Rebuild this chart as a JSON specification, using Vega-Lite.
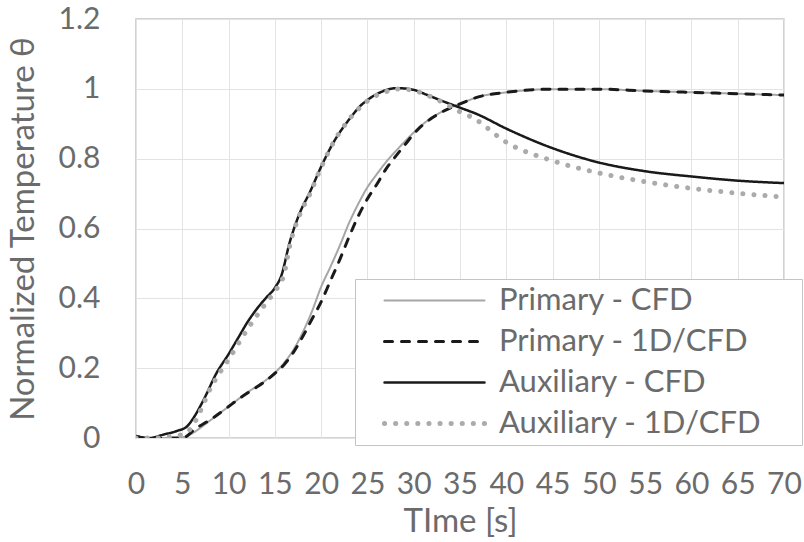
{
  "$schema": "https://vega.github.io/schema/vega-lite/v6.json",
  "width": 648,
  "height": 419,
  "autosize": {"type": "none"},
  "padding": {"left": 136, "top": 19, "right": 20, "bottom": 104},
  "background": "white",
  "config": {
    "font": "Lato",
    "view": {"stroke": "#c4c4c4", "strokeWidth": 1.5},
    "axis": {
      "labelColor": "#6b6b6b",
      "titleColor": "#6b6b6b",
      "labelFontSize": 30,
      "titleFontSize": 33,
      "titleFontWeight": "normal",
      "gridColor": "#e3e3e3",
      "gridWidth": 1,
      "domain": false,
      "ticks": false
    }
  },
  "data": {
    "values": [
      {"series": "Primary - CFD", "t": 0, "v": 0.0},
      {"series": "Primary - CFD", "t": 2, "v": 0.0},
      {"series": "Primary - CFD", "t": 4, "v": 0.0},
      {"series": "Primary - CFD", "t": 5, "v": 0.002},
      {"series": "Primary - CFD", "t": 6, "v": 0.012},
      {"series": "Primary - CFD", "t": 7, "v": 0.03},
      {"series": "Primary - CFD", "t": 8, "v": 0.05},
      {"series": "Primary - CFD", "t": 10, "v": 0.09},
      {"series": "Primary - CFD", "t": 12, "v": 0.13},
      {"series": "Primary - CFD", "t": 14, "v": 0.165},
      {"series": "Primary - CFD", "t": 16, "v": 0.215},
      {"series": "Primary - CFD", "t": 17, "v": 0.252},
      {"series": "Primary - CFD", "t": 18, "v": 0.302},
      {"series": "Primary - CFD", "t": 19, "v": 0.362},
      {"series": "Primary - CFD", "t": 20, "v": 0.433},
      {"series": "Primary - CFD", "t": 21, "v": 0.49},
      {"series": "Primary - CFD", "t": 22, "v": 0.55},
      {"series": "Primary - CFD", "t": 23, "v": 0.615},
      {"series": "Primary - CFD", "t": 24, "v": 0.67},
      {"series": "Primary - CFD", "t": 25, "v": 0.718},
      {"series": "Primary - CFD", "t": 26, "v": 0.755},
      {"series": "Primary - CFD", "t": 27, "v": 0.79},
      {"series": "Primary - CFD", "t": 28, "v": 0.82},
      {"series": "Primary - CFD", "t": 29, "v": 0.848},
      {"series": "Primary - CFD", "t": 30, "v": 0.875},
      {"series": "Primary - CFD", "t": 31, "v": 0.899},
      {"series": "Primary - CFD", "t": 32, "v": 0.918},
      {"series": "Primary - CFD", "t": 33, "v": 0.934},
      {"series": "Primary - CFD", "t": 35, "v": 0.957},
      {"series": "Primary - CFD", "t": 37, "v": 0.977},
      {"series": "Primary - CFD", "t": 40, "v": 0.99},
      {"series": "Primary - CFD", "t": 45, "v": 0.999},
      {"series": "Primary - CFD", "t": 50, "v": 0.999},
      {"series": "Primary - CFD", "t": 55, "v": 0.994},
      {"series": "Primary - CFD", "t": 60, "v": 0.99},
      {"series": "Primary - CFD", "t": 65, "v": 0.986},
      {"series": "Primary - CFD", "t": 70, "v": 0.982},

      {"series": "Primary - 1D/CFD", "t": 0, "v": 0.005},
      {"series": "Primary - 1D/CFD", "t": 1.5, "v": -0.003},
      {"series": "Primary - 1D/CFD", "t": 3, "v": 0.0},
      {"series": "Primary - 1D/CFD", "t": 5, "v": 0.0},
      {"series": "Primary - 1D/CFD", "t": 6.5, "v": 0.028},
      {"series": "Primary - 1D/CFD", "t": 8, "v": 0.052},
      {"series": "Primary - 1D/CFD", "t": 10, "v": 0.09},
      {"series": "Primary - 1D/CFD", "t": 11, "v": 0.11},
      {"series": "Primary - 1D/CFD", "t": 12, "v": 0.128},
      {"series": "Primary - 1D/CFD", "t": 13, "v": 0.145},
      {"series": "Primary - 1D/CFD", "t": 14, "v": 0.163},
      {"series": "Primary - 1D/CFD", "t": 15, "v": 0.185},
      {"series": "Primary - 1D/CFD", "t": 16, "v": 0.21},
      {"series": "Primary - 1D/CFD", "t": 17, "v": 0.245},
      {"series": "Primary - 1D/CFD", "t": 18, "v": 0.29},
      {"series": "Primary - 1D/CFD", "t": 19, "v": 0.34},
      {"series": "Primary - 1D/CFD", "t": 20, "v": 0.39},
      {"series": "Primary - 1D/CFD", "t": 21, "v": 0.45},
      {"series": "Primary - 1D/CFD", "t": 22, "v": 0.51},
      {"series": "Primary - 1D/CFD", "t": 23, "v": 0.575},
      {"series": "Primary - 1D/CFD", "t": 24, "v": 0.635},
      {"series": "Primary - 1D/CFD", "t": 25, "v": 0.685},
      {"series": "Primary - 1D/CFD", "t": 26, "v": 0.726},
      {"series": "Primary - 1D/CFD", "t": 27, "v": 0.77},
      {"series": "Primary - 1D/CFD", "t": 28, "v": 0.805},
      {"series": "Primary - 1D/CFD", "t": 29, "v": 0.838},
      {"series": "Primary - 1D/CFD", "t": 30, "v": 0.871},
      {"series": "Primary - 1D/CFD", "t": 31, "v": 0.897},
      {"series": "Primary - 1D/CFD", "t": 32, "v": 0.917},
      {"series": "Primary - 1D/CFD", "t": 33, "v": 0.933},
      {"series": "Primary - 1D/CFD", "t": 35, "v": 0.957},
      {"series": "Primary - 1D/CFD", "t": 37, "v": 0.977},
      {"series": "Primary - 1D/CFD", "t": 40, "v": 0.99},
      {"series": "Primary - 1D/CFD", "t": 45, "v": 0.999},
      {"series": "Primary - 1D/CFD", "t": 50, "v": 0.999},
      {"series": "Primary - 1D/CFD", "t": 55, "v": 0.994},
      {"series": "Primary - 1D/CFD", "t": 60, "v": 0.99},
      {"series": "Primary - 1D/CFD", "t": 65, "v": 0.986},
      {"series": "Primary - 1D/CFD", "t": 70, "v": 0.982},

      {"series": "Auxiliary - CFD", "t": 0, "v": 0.005},
      {"series": "Auxiliary - CFD", "t": 1.5, "v": 0.0},
      {"series": "Auxiliary - CFD", "t": 3, "v": 0.01},
      {"series": "Auxiliary - CFD", "t": 4.4, "v": 0.02},
      {"series": "Auxiliary - CFD", "t": 5.5, "v": 0.033},
      {"series": "Auxiliary - CFD", "t": 6.2, "v": 0.057},
      {"series": "Auxiliary - CFD", "t": 7.3, "v": 0.109},
      {"series": "Auxiliary - CFD", "t": 8.7, "v": 0.186},
      {"series": "Auxiliary - CFD", "t": 10, "v": 0.24},
      {"series": "Auxiliary - CFD", "t": 11, "v": 0.285},
      {"series": "Auxiliary - CFD", "t": 12, "v": 0.33},
      {"series": "Auxiliary - CFD", "t": 13, "v": 0.368},
      {"series": "Auxiliary - CFD", "t": 14, "v": 0.4},
      {"series": "Auxiliary - CFD", "t": 15, "v": 0.43},
      {"series": "Auxiliary - CFD", "t": 15.7, "v": 0.465},
      {"series": "Auxiliary - CFD", "t": 16.6, "v": 0.56},
      {"series": "Auxiliary - CFD", "t": 17.7, "v": 0.645},
      {"series": "Auxiliary - CFD", "t": 18.8, "v": 0.705},
      {"series": "Auxiliary - CFD", "t": 20, "v": 0.777},
      {"series": "Auxiliary - CFD", "t": 21.3, "v": 0.845},
      {"series": "Auxiliary - CFD", "t": 23.1, "v": 0.915},
      {"series": "Auxiliary - CFD", "t": 24.2, "v": 0.95},
      {"series": "Auxiliary - CFD", "t": 25, "v": 0.968},
      {"series": "Auxiliary - CFD", "t": 26.4, "v": 0.99},
      {"series": "Auxiliary - CFD", "t": 28.2, "v": 1.002},
      {"series": "Auxiliary - CFD", "t": 30, "v": 0.997},
      {"series": "Auxiliary - CFD", "t": 31.4, "v": 0.983},
      {"series": "Auxiliary - CFD", "t": 33.2, "v": 0.964},
      {"series": "Auxiliary - CFD", "t": 35, "v": 0.946},
      {"series": "Auxiliary - CFD", "t": 36.8, "v": 0.928},
      {"series": "Auxiliary - CFD", "t": 40, "v": 0.886},
      {"series": "Auxiliary - CFD", "t": 45, "v": 0.83},
      {"series": "Auxiliary - CFD", "t": 50, "v": 0.789},
      {"series": "Auxiliary - CFD", "t": 55, "v": 0.764},
      {"series": "Auxiliary - CFD", "t": 60, "v": 0.749},
      {"series": "Auxiliary - CFD", "t": 65, "v": 0.737},
      {"series": "Auxiliary - CFD", "t": 70, "v": 0.73},

      {"series": "Auxiliary - 1D/CFD", "t": 0, "v": 0.0},
      {"series": "Auxiliary - 1D/CFD", "t": 2, "v": 0.0},
      {"series": "Auxiliary - 1D/CFD", "t": 4, "v": 0.005},
      {"series": "Auxiliary - 1D/CFD", "t": 5, "v": 0.01},
      {"series": "Auxiliary - 1D/CFD", "t": 6, "v": 0.03},
      {"series": "Auxiliary - 1D/CFD", "t": 7, "v": 0.08},
      {"series": "Auxiliary - 1D/CFD", "t": 8, "v": 0.14},
      {"series": "Auxiliary - 1D/CFD", "t": 9, "v": 0.185},
      {"series": "Auxiliary - 1D/CFD", "t": 10, "v": 0.225},
      {"series": "Auxiliary - 1D/CFD", "t": 12, "v": 0.31},
      {"series": "Auxiliary - 1D/CFD", "t": 14, "v": 0.385},
      {"series": "Auxiliary - 1D/CFD", "t": 15, "v": 0.42},
      {"series": "Auxiliary - 1D/CFD", "t": 16, "v": 0.47},
      {"series": "Auxiliary - 1D/CFD", "t": 16.6, "v": 0.55},
      {"series": "Auxiliary - 1D/CFD", "t": 17.7, "v": 0.64},
      {"series": "Auxiliary - 1D/CFD", "t": 18.8, "v": 0.7},
      {"series": "Auxiliary - 1D/CFD", "t": 20, "v": 0.775},
      {"series": "Auxiliary - 1D/CFD", "t": 21.3, "v": 0.845},
      {"series": "Auxiliary - 1D/CFD", "t": 23.1, "v": 0.915},
      {"series": "Auxiliary - 1D/CFD", "t": 25, "v": 0.965},
      {"series": "Auxiliary - 1D/CFD", "t": 27.4, "v": 0.995},
      {"series": "Auxiliary - 1D/CFD", "t": 28.5, "v": 1.0},
      {"series": "Auxiliary - 1D/CFD", "t": 30, "v": 0.995},
      {"series": "Auxiliary - 1D/CFD", "t": 31.8, "v": 0.978},
      {"series": "Auxiliary - 1D/CFD", "t": 33, "v": 0.963},
      {"series": "Auxiliary - 1D/CFD", "t": 35, "v": 0.934},
      {"series": "Auxiliary - 1D/CFD", "t": 36.4, "v": 0.917},
      {"series": "Auxiliary - 1D/CFD", "t": 40, "v": 0.847},
      {"series": "Auxiliary - 1D/CFD", "t": 45, "v": 0.794},
      {"series": "Auxiliary - 1D/CFD", "t": 50, "v": 0.759},
      {"series": "Auxiliary - 1D/CFD", "t": 55, "v": 0.734},
      {"series": "Auxiliary - 1D/CFD", "t": 60, "v": 0.715},
      {"series": "Auxiliary - 1D/CFD", "t": 65, "v": 0.701},
      {"series": "Auxiliary - 1D/CFD", "t": 70, "v": 0.69}
    ]
  },
  "mark": {"type": "line", "interpolate": "monotone", "strokeCap": "round", "clip": true},
  "encoding": {
    "x": {
      "field": "t", "type": "quantitative",
      "scale": {"domain": [0, 70], "nice": false, "zero": false},
      "axis": {"values": [0,5,10,15,20,25,30,35,40,45,50,55,60,65,70], "title": "TIme [s]", "labelPadding": 31, "titlePadding": 6, "labelFlush": false}
    },
    "y": {
      "field": "v", "type": "quantitative",
      "scale": {"domain": [0, 1.2], "nice": false},
      "axis": {"values": [0,0.2,0.4,0.6,0.8,1,1.2], "format": "~g", "title": "Normalized Temperature θ", "labelPadding": 36, "titlePadding": 18}
    },
    "color": {
      "field": "series", "type": "nominal",
      "scale": {"domain": ["Primary - CFD", "Primary - 1D/CFD", "Auxiliary - CFD", "Auxiliary - 1D/CFD"], "range": ["#a6a6a6", "#1a1a1a", "#1a1a1a", "#ababab"]},
      "legend": {
        "title": " ",
        "titleOrient": "right",
        "titlePadding": 35,
        "titleFontSize": 10,
        "orient": "none",
        "legendX": 219,
        "legendY": 260,
        "symbolType": "M-5,0H5",
        "symbolSize": 400,
        "symbolOffset": 58,
        "labelOffset": 49,
        "labelFontSize": 31,
        "labelColor": "#6b6b6b",
        "labelLimit": 400,
        "strokeColor": "#c4c4c4",
        "fillColor": "white",
        "padding": 6,
        "rowPadding": 9,
        "encode": {
          "symbols": {
            "update": {
              "strokeCap": {"value": "round"},
              "strokeWidth": {"signal": "datum.value === 'Auxiliary - 1D/CFD' ? 5 : datum.value === 'Primary - 1D/CFD' ? 3 : datum.value === 'Auxiliary - CFD' ? 2.5 : 2"},
              "strokeDash": {"signal": "datum.value === 'Auxiliary - 1D/CFD' ? [0.1, 11] : datum.value === 'Primary - 1D/CFD' ? [5.5, 9.5] : [1, 0]"}
            }
          }
        }
      }
    },
    "strokeDash": {
      "field": "series", "type": "nominal",
      "scale": {"domain": ["Primary - CFD", "Primary - 1D/CFD", "Auxiliary - CFD", "Auxiliary - 1D/CFD"], "range": [[1, 0], [8, 9], [1, 0], [0.1, 11]]},
      "legend": null
    },
    "strokeWidth": {
      "field": "series", "type": "nominal",
      "scale": {"type": "ordinal", "domain": ["Primary - CFD", "Primary - 1D/CFD", "Auxiliary - CFD", "Auxiliary - 1D/CFD"], "range": [2, 3, 2.5, 5]},
      "legend": null
    }
  }
}
